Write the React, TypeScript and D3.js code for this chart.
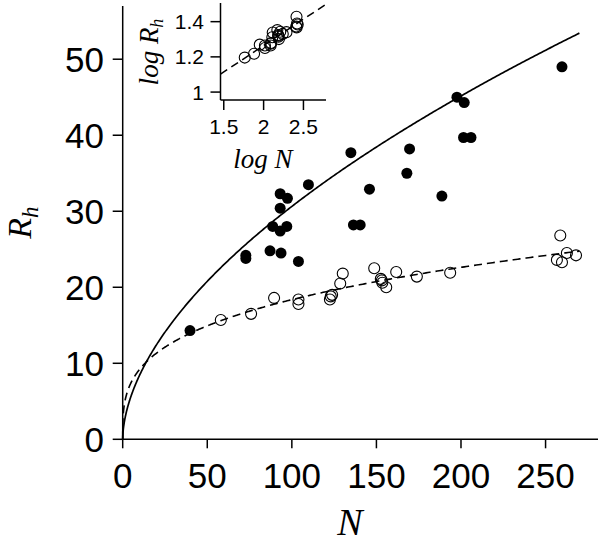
import React from "react";
import * as d3 from "d3";

// Filled circles (N, Rh)
const filledN = [39.8, 72.8, 72.8, 87.1, 93.6, 103.9, 88.7, 93.1, 97.0, 93.1, 93.1, 97.4, 109.8, 134.9, 136.4, 140.4, 145.9, 168.0, 169.6, 188.7, 197.6, 201.9, 201.5, 205.9, 259.7];
const filledR = [14.3, 24.2, 23.8, 24.8, 24.5, 23.4, 28.0, 27.4, 28.0, 30.4, 32.3, 31.7, 33.5, 37.7, 28.2, 28.2, 32.9, 35.0, 38.2, 32.0, 45.0, 44.3, 39.7, 39.7, 49.0];

// Open circles (N, Rh)
const openN = [58.0, 75.9, 89.5, 103.9, 103.9, 122.5, 123.0, 123.8, 128.6, 130.1, 148.7, 152.6, 153.2, 153.5, 155.8, 161.7, 173.9, 193.6, 256.7, 258.7, 259.7, 262.6, 268.0];
const openR = [15.7, 16.5, 18.6, 18.4, 17.8, 18.4, 18.8, 19.0, 20.5, 21.8, 22.5, 21.1, 20.9, 20.6, 20.0, 22.0, 21.4, 21.9, 23.6, 26.8, 23.3, 24.5, 24.2];

// Power-law fits Rh = a * N^nu
const solidFit = { a: 2.324, nu: 0.56 };
const dashedFit = { a: 4.615, nu: 0.3 };
const fitMaxN = 270;

const xTicks = [0, 50, 100, 150, 200, 250];
const yTicks = [0, 10, 20, 30, 40, 50];
const insetXTicks = [1.5, 2, 2.5];
const insetYTicks = [1, 1.2, 1.4];

export default function App() {
  const x = d3.scaleLinear().domain([0, 281]).range([122.7, 598]);
  const y = d3.scaleLinear().domain([0, 57]).range([439.3, 6]);

  const xi = d3.scaleLinear().domain([1.459, 2.783]).range([220.5, 326]);
  const yi = d3.scaleLinear().domain([0.955, 1.506]).range([100, 3]);

  const ts = d3.range(0, 1.0001, 1 / 400);
  const fitLine = (f: { a: number; nu: number }) =>
    d3
      .line<number>()
      .x((t) => x(fitMaxN * t * t))
      .y((t) => y(f.a * Math.pow(fitMaxN * t * t, f.nu)))(ts) as string;

  const insetLine = d3
    .line<number>()
    .x((v) => xi(v))
    .y((v) => yi(Math.log10(dashedFit.a) + dashedFit.nu * v))([1.459, 2.783]) as string;

  const sans = "'Liberation Sans', Arial, Helvetica, sans-serif";
  const serif = "'Liberation Serif', 'Times New Roman', serif";
  const sw = 1.5;

  return (
    <svg width={600} height={545} style={{ position: "absolute", left: 0, top: 0, background: "#fff" }}>
      {/* main axes */}
      <line x1={x(0)} x2={x(0)} y1={y(57)} y2={y(0)} stroke="#000" strokeWidth={sw} />
      <line x1={x(0)} x2={x(281)} y1={y(0)} y2={y(0)} stroke="#000" strokeWidth={sw} />
      {yTicks.map((t) => (
        <g key={"yt" + t}>
          <line x1={x(0) - 10} x2={x(0)} y1={y(t)} y2={y(t)} stroke="#000" strokeWidth={sw} />
          <text x={104} y={y(t)} dy="0.36em" textAnchor="end" fontFamily={sans} fontSize={35}>
            {t}
          </text>
        </g>
      ))}
      {xTicks.map((t) => (
        <g key={"xt" + t}>
          <line x1={x(t)} x2={x(t)} y1={y(0)} y2={y(0) + 9} stroke="#000" strokeWidth={sw} />
          <text x={x(t)} y={488} textAnchor="middle" fontFamily={sans} fontSize={35}>
            {t}
          </text>
        </g>
      ))}
      <text x={350} y={535} textAnchor="middle" fontFamily={serif} fontStyle="italic" fontSize={38}>
        N
      </text>
      <text
        transform={`translate(31,${y(28.5)}) rotate(-90)`}
        textAnchor="middle"
        fontFamily={serif}
        fontStyle="italic"
        fontSize={34}
      >
        R<tspan fontSize={23} dy={7}>h</tspan>
      </text>

      {/* fit curves */}
      <path d={fitLine(solidFit)} fill="none" stroke="#000" strokeWidth={1.7} />
      <path d={fitLine(dashedFit)} fill="none" stroke="#000" strokeWidth={1.6} strokeDasharray="8,5" />

      {/* data */}
      {openN.map((n, i) => (
        <circle key={"o" + i} cx={x(n)} cy={y(openR[i])} r={5.5} fill="none" stroke="#000" strokeWidth={1.1} />
      ))}
      {filledN.map((n, i) => (
        <circle key={"f" + i} cx={x(n)} cy={y(filledR[i])} r={5.5} fill="#000" />
      ))}

      {/* inset */}
      <line x1={xi(1.459)} x2={xi(1.459)} y1={yi(1.506)} y2={yi(0.955)} stroke="#000" strokeWidth={sw} />
      <line x1={xi(1.459)} x2={xi(2.783)} y1={yi(0.955)} y2={yi(0.955)} stroke="#000" strokeWidth={sw} />
      {insetYTicks.map((t) => (
        <g key={"iy" + t}>
          <line x1={xi(1.459) - 10} x2={xi(1.459)} y1={yi(t)} y2={yi(t)} stroke="#000" strokeWidth={sw} />
          <text x={204} y={yi(t)} dy="0.36em" textAnchor="end" fontFamily={sans} fontSize={21}>
            {String(t)}
          </text>
        </g>
      ))}
      {insetXTicks.map((t) => (
        <g key={"ix" + t}>
          <line x1={xi(t)} x2={xi(t)} y1={yi(0.955)} y2={yi(0.955) + 10} stroke="#000" strokeWidth={sw} />
          <text x={xi(t)} y={134} textAnchor="middle" fontFamily={sans} fontSize={21}>
            {String(t)}
          </text>
        </g>
      ))}
      <text x={263} y={168} textAnchor="middle" fontFamily={serif} fontStyle="italic" fontSize={27}>
        log N
      </text>
      <text
        transform={`translate(158,52) rotate(-90)`}
        textAnchor="middle"
        fontFamily={serif}
        fontStyle="italic"
        fontSize={27}
      >
        log R<tspan fontSize={18} dy={5}>h</tspan>
      </text>
      <path d={insetLine} fill="none" stroke="#000" strokeWidth={1.5} strokeDasharray="8,5" />
      {openN.map((n, i) => (
        <circle
          key={"io" + i}
          cx={xi(Math.log10(n))}
          cy={yi(Math.log10(openR[i]))}
          r={5.5}
          fill="none"
          stroke="#000"
          strokeWidth={1.1}
        />
      ))}
    </svg>
  );
}
